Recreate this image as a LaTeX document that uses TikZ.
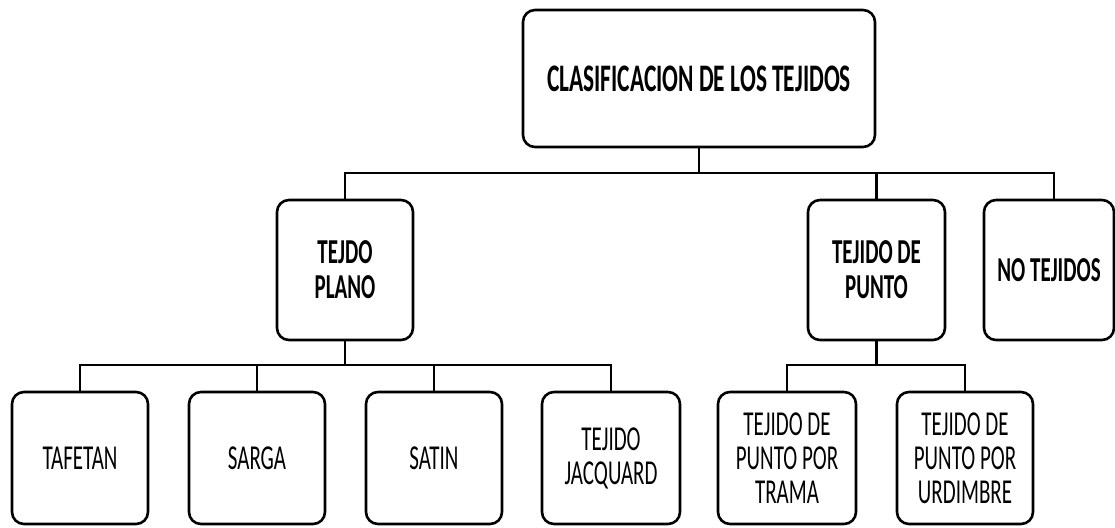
\documentclass[tikz,border=0pt]{standalone}
\usepackage{fontspec}
\usetikzlibrary{calc}
\setmainfont{Carlito}[FakeStretch=0.6]
\begin{document}
\begin{tikzpicture}[x=1pt,y=-1pt,
  box/.style={draw=black, line width=2.6pt, rounded corners=12pt, inner sep=0pt, align=center},
  lvlone/.style={box, font=\bfseries\fontsize{35}{35}\selectfont, minimum height=140pt},
  leaf/.style={box, font=\fontsize{35}{34}\selectfont, minimum height=132pt},
  conn/.style={line width=2.6pt}]
\useasboundingbox (0,0) rectangle (1115,527);
\node[box, font=\bfseries\fontsize{39}{39}\selectfont, minimum width=352pt, minimum height=137pt] (root) at (699,78.5) {CLASIFICACION DE LOS TEJIDOS};
\node[lvlone, minimum width=136pt] (plano) at (345,270) {TEJDO\\PLANO};
\node[lvlone, minimum width=137pt] (punto) at (876.5,270) {TEJIDO DE\\PUNTO};
\node[lvlone, minimum width=130pt] (no) at (1049,270) {NO TEJIDOS};
\node[leaf, minimum width=136pt] (tafetan) at (80,458) {TAFETAN};
\node[leaf, minimum width=136pt] (sarga) at (257,458) {SARGA};
\node[leaf, minimum width=136pt] (satin) at (434,458) {SATIN};
\node[leaf, minimum width=138pt] (jacq) at (611,458) {TEJIDO\\JACQUARD};
\node[leaf, minimum width=138pt] (trama) at (787,458) {TEJIDO DE\\PUNTO POR\\TRAMA};
\node[leaf, minimum width=136pt] (urd) at (965,458) {TEJIDO DE\\PUNTO POR\\URDIMBRE};
\coordinate (busA) at (0,173);
\coordinate (busB) at (0,365);
\draw[conn] (root.south) -- (root.south |- busA);
\draw[conn] (plano.north) |- ($(no.north |- busA)+(5,0)$) -- ($(no.north)+(5,0)$);
\draw[conn] (punto.north) -- (punto.north |- busA);
\draw[conn] (plano.south) -- (plano.south |- busB);
\draw[conn] (tafetan.north) |- (jacq.north |- busB) -- (jacq.north);
\draw[conn] (sarga.north) -- (sarga.north |- busB);
\draw[conn] (satin.north) -- (satin.north |- busB);
\draw[conn] (punto.south) -- (punto.south |- busB);
\draw[conn] (trama.north) |- (urd.north |- busB) -- (urd.north);
\end{tikzpicture}
\end{document}
